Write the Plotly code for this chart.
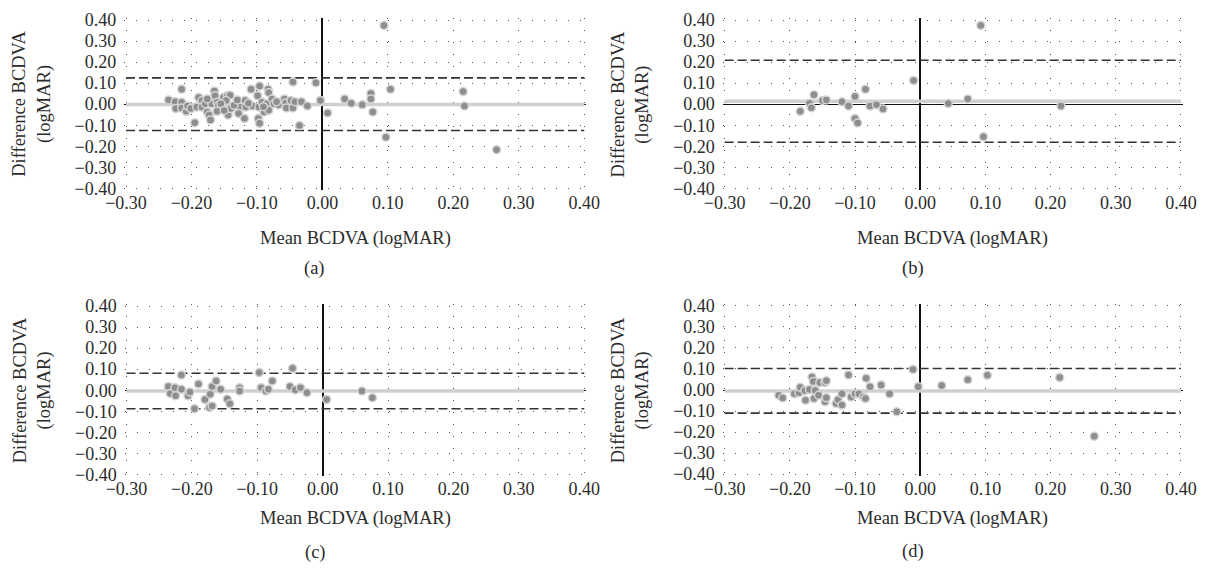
import plotly.graph_objects as go

# ---- data: Bland-Altman points (mean vs difference of BCDVA, logMAR) ----
a_mean = [-0.235, -0.225, -0.215, -0.215, -0.224, -0.215, -0.208, -0.206, -0.201, -0.195,
          -0.192, -0.189, -0.184, -0.184, -0.179, -0.176, -0.173, -0.171, -0.169, -0.169,
          -0.165, -0.164, -0.161, -0.159, -0.161, -0.151, -0.145, -0.141, -0.147, -0.144,
          -0.140, -0.124, -0.126, -0.128, -0.119, -0.118, -0.117, -0.109, -0.107, -0.099,
          -0.096, -0.098, -0.096, -0.097, -0.092, -0.089, -0.083, -0.082, -0.085, -0.082,
          -0.077, -0.074, -0.067, -0.058, -0.056, -0.055, -0.048, -0.045, -0.045, -0.042,
          -0.035, -0.032, -0.023, -0.010, -0.003, 0.008, -0.176, -0.155, -0.135, -0.150,
          -0.113, -0.090, -0.070, -0.130, 0.034, 0.044, 0.061, 0.074, 0.074, 0.077,
          0.104, 0.094, 0.097, 0.215, 0.217, 0.266]
a_diff = [0.020, 0.012, 0.009, 0.071, -0.021, -0.018, -0.034, -0.009, -0.021, -0.088,
          -0.014, 0.032, 0.017, -0.014, 0.002, -0.037, -0.052, -0.075, 0.025, 0.002,
          0.063, 0.040, 0.009, -0.006, -0.034, 0.032, 0.040, 0.043, 0.017, -0.052,
          -0.021, 0.012, -0.014, -0.044, -0.068, 0.017, -0.014, 0.071, -0.009, 0.040,
          0.086, -0.068, -0.091, -0.014, 0.009, -0.037, 0.071, 0.055, 0.002, -0.029,
          0.025, 0.002, -0.003, 0.025, 0.006, -0.018, 0.017, -0.018, 0.105, 0.012,
          -0.102, 0.012, -0.009, 0.102, 0.018, -0.042, 0.025, 0.002, -0.005, -0.030,
          0.005, -0.012, 0.012, 0.020, 0.025, 0.005, -0.003, 0.051, 0.025, -0.037,
          0.071, 0.375, -0.157, 0.060, -0.009, -0.217]
a_bias, a_upper, a_lower = -0.002, 0.125, -0.125

b_mean = [-0.184, -0.170, -0.167, -0.163, -0.150, -0.144, -0.120, -0.110, -0.100, -0.100,
          -0.096, -0.084, -0.077, -0.067, -0.057, -0.010, 0.043, 0.073, 0.093, 0.097, 0.216]
b_diff = [-0.034, 0.005, -0.017, 0.045, 0.018, 0.020, 0.011, -0.009, 0.037, -0.068,
          -0.089, 0.071, -0.009, -0.003, -0.023, 0.113, 0.003, 0.025, 0.375, -0.155, -0.009]
b_bias, b_upper, b_lower = 0.014, 0.209, -0.181

c_mean = [-0.236, -0.233, -0.226, -0.225, -0.216, -0.216, -0.206, -0.203, -0.196, -0.190,
          -0.180, -0.173, -0.169, -0.172, -0.169, -0.163, -0.156, -0.146, -0.142, -0.127,
          -0.127, -0.097, -0.094, -0.087, -0.083, -0.077, -0.050, -0.046, -0.042, -0.034,
          -0.024, 0.006, 0.060, 0.076]
c_diff = [0.018, -0.016, 0.012, -0.027, 0.072, 0.004, -0.027, -0.008, -0.088, 0.030,
          -0.044, -0.082, -0.075, -0.019, 0.018, 0.044, 0.004, -0.042, -0.065, 0.012,
          -0.004, 0.084, 0.012, -0.004, 0.004, 0.044, 0.018, 0.104, 0.002, 0.012,
          -0.012, -0.044, -0.004, -0.036]
c_bias, c_upper, c_lower = -0.004, 0.081, -0.088

d_mean = [-0.217, -0.211, -0.193, -0.186, -0.184, -0.177, -0.176, -0.170, -0.166, -0.164,
          -0.161, -0.163, -0.156, -0.154, -0.146, -0.144, -0.146, -0.144, -0.129, -0.126,
          -0.120, -0.120, -0.110, -0.106, -0.100, -0.094, -0.087, -0.084, -0.083, -0.077,
          -0.060, -0.047, -0.036, -0.011, -0.003, 0.033, 0.073, 0.103, 0.214, 0.267]
d_diff = [-0.025, -0.038, -0.018, -0.013, 0.013, -0.002, -0.049, 0.002, 0.062, 0.041,
          -0.002, -0.041, -0.025, 0.036, 0.036, 0.044, -0.056, -0.037, -0.064, -0.046,
          -0.072, -0.018, 0.072, -0.033, -0.018, -0.018, -0.033, -0.041, 0.056, 0.016,
          0.024, -0.018, -0.103, 0.098, 0.016, 0.021, 0.049, 0.070, 0.059, -0.220]
d_bias, d_upper, d_lower = -0.005, 0.102, -0.110

panel_labels = ["(a)", "(b)", "(c)", "(d)"]
x_ticks = [-0.30, -0.20, -0.10, 0.00, 0.10, 0.20, 0.30, 0.40]
y_ticks = [-0.40, -0.30, -0.20, -0.10, 0.00, 0.10, 0.20, 0.30, 0.40]
x_title = "Mean BCDVA (logMAR)"
y_title = "Difference BCDVA<br>(logMAR)"

# ---- layout geometry (pixels) ----
W, H = 1218, 582
FONT = "Liberation Serif, Times New Roman, serif"
TXT = "#2b2b2b"
# left/right pixel of x=-0.30 / x=0.40 and top/bottom pixel of y=0.40 / y=-0.40
boxes = [
    (110.0, 581.0, 12.5, 185.3),
    (725.3, 1194.3, 12.5, 185.3),
    (110.5, 581.0, 306.6, 479.4),
    (725.3, 1194.3, 306.4, 479.2),
]
# offsets (px below the plot bottom) of the x title and the panel label, per row
title_gap = [52, 52, 46, 46]
label_gap = [83, 83, 80, 80]
XPAD, YPAD = 0.0028, 0.0085  # tiny padding so edge grid lines are drawn
XR = [x_ticks[0] - XPAD, x_ticks[-1] + XPAD]
YR = [y_ticks[0] - YPAD, y_ticks[-1] + YPAD]

panels = [
    (a_mean, a_diff, a_bias, a_upper, a_lower),
    (b_mean, b_diff, b_bias, b_upper, b_lower),
    (c_mean, c_diff, c_bias, c_upper, c_lower),
    (d_mean, d_diff, d_bias, d_upper, d_lower),
]

fig = go.Figure()
layout = dict(
    width=W, height=H, autosize=False,
    margin=dict(l=0, r=0, t=0, b=0),
    paper_bgcolor="white", plot_bgcolor="white",
    showlegend=False,
    font=dict(family=FONT, size=18, color=TXT),
)
annotations = []

for i, (xs, ys, bias, up, lo) in enumerate(panels):
    n = "" if i == 0 else str(i + 1)
    xa, ya = "x" + n, "y" + n
    x0, x1, y0, y1 = boxes[i]
    sx = (x1 - x0) / (x_ticks[-1] - x_ticks[0])
    sy = (y1 - y0) / (y_ticks[-1] - y_ticks[0])
    dx0 = (x0 - XPAD * sx) / W
    dx1 = (x1 + XPAD * sx) / W
    dy0 = 1 - (y1 + YPAD * sy) / H
    dy1 = 1 - (y0 - YPAD * sy) / H

    layout["xaxis" + n] = dict(
        domain=[dx0, dx1], range=XR, anchor=ya,
        tickvals=x_ticks, tickformat=".2f",
        showgrid=True, gridcolor="#555555", gridwidth=1.3, griddash="1px,11px",
        zeroline=True, zerolinecolor="#111111", zerolinewidth=1.6,
        showline=False, ticks="", ticklabelstandoff=0,
        tickfont=dict(family=FONT, size=18, color=TXT),
        fixedrange=True,
    )
    layout["yaxis" + n] = dict(
        domain=[dy0, dy1], range=YR, anchor=xa,
        tickvals=y_ticks, tickformat=".2f",
        showgrid=True, gridcolor="#555555", gridwidth=1.3, griddash="1px,11px",
        zeroline=True, zerolinecolor="#111111", zerolinewidth=1.4,
        showline=False, ticks="", ticklabelstandoff=7,
        tickfont=dict(family=FONT, size=18, color=TXT),
        fixedrange=True,
    )

    # mean difference (bias) line
    fig.add_trace(go.Scatter(
        x=[x_ticks[0], x_ticks[-1]], y=[bias, bias], mode="lines",
        line=dict(color="#cfcfcf", width=3.5), xaxis=xa, yaxis=ya, hoverinfo="skip"))
    # limits of agreement
    for lim in (up, lo):
        fig.add_trace(go.Scatter(
            x=[x_ticks[0], x_ticks[-1]], y=[lim, lim], mode="lines",
            line=dict(color="#333333", width=1.6, dash="9px,4px"),
            xaxis=xa, yaxis=ya, hoverinfo="skip"))
    # individual eyes
    fig.add_trace(go.Scatter(
        x=xs, y=ys, mode="markers",
        marker=dict(size=8, color="#8e8e8e", line=dict(color="#d4d4d4", width=1.5)),
        xaxis=xa, yaxis=ya))

    # axis titles and panel label
    cx = (x0 + x1) / 2
    annotations.append(dict(
        text=x_title, xref="paper", yref="paper",
        x=cx / W, y=1 - (y1 + title_gap[i]) / H,
        showarrow=False, xanchor="center", yanchor="middle",
        font=dict(family=FONT, size=18.5, color=TXT)))
    annotations.append(dict(
        text=panel_labels[i], xref="paper", yref="paper",
        x=(x0 + 194) / W, y=1 - (y1 + label_gap[i]) / H,
        showarrow=False, xanchor="center", yanchor="middle",
        font=dict(family=FONT, size=18.5, color=TXT)))
    annotations.append(dict(
        text=y_title, xref="paper", yref="paper",
        x=(x0 - 97) / W, y=1 - ((y0 + y1) / 2) / H,
        showarrow=False, xanchor="center", yanchor="middle", textangle=-90,
        font=dict(family=FONT, size=18.5, color=TXT)))

layout["annotations"] = annotations
fig.update_layout(**layout)
fig.write_html("out.html")
